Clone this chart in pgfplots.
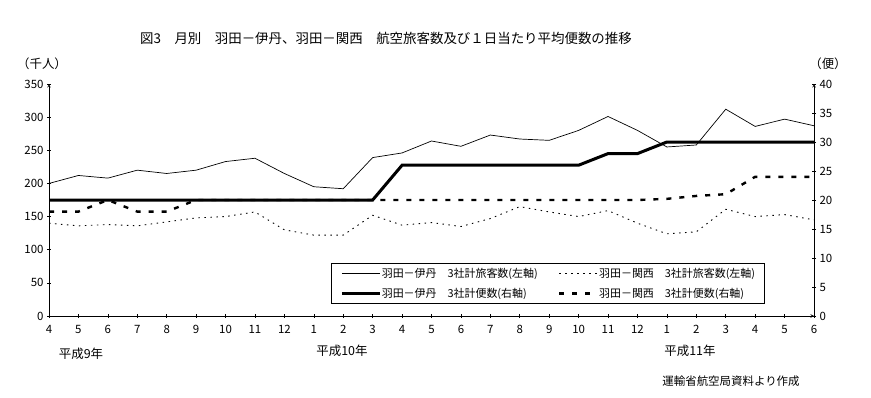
\documentclass[border=0pt]{standalone}
\usepackage{pgfplots}
\pgfplotsset{compat=1.18}
\usepackage{fontspec}
\setmainfont{Noto Sans CJK JP}
\begin{document}
\begin{tikzpicture}[x=1bp,y=1bp]
\useasboundingbox[fill=white] (0,0) rectangle (871,397);
\pgfplotsset{
  base/.style={
    at={(49bp,81bp)}, anchor=south west,
    scale only axis, width=765bp, height=232bp,
    xmin=0, xmax=26,
    tick align=inside, major tick length=4bp,
    axis line style={-, line width=0.6bp},
    every tick/.style={line width=0.6bp, black},
    tick label style={font=\fontsize{11.5}{12}\selectfont},
    /pgf/number format/assume math mode=true,
  }
}
\begin{axis}[base,
  ymin=0, ymax=350,
  axis x line=bottom, axis y line=left,
  xtick={0,...,26},
  xticklabels={4,5,6,7,8,9,10,11,12,1,2,3,4,5,6,7,8,9,10,11,12,1,2,3,4,5,6},
  xticklabel style={yshift=-4bp},
  ytick={0,50,...,350},
]
\addplot[black, line width=0.7bp] coordinates {
(0,200)(1,212)(2,208)(3,220)(4,215)(5,220)(6,233)(7,238)(8,215)
(9,195)(10,192)(11,239)(12,246)(13,264)(14,256)(15,273)(16,267)(17,265)(18,280)(19,301)(20,280)
(21,255)(22,258)(23,312)(24,286)(25,297)(26,287)};
\addplot[black, line width=0.9bp, dash pattern=on 1.5bp off 4.5bp] coordinates {
(0,140)(1,136)(2,138)(3,136)(4,142)(5,148)(6,150)(7,157)(8,130)
(9,122)(10,122)(11,152)(12,137)(13,141)(14,135)(15,147)(16,165)(17,157)(18,150)(19,159)(20,140)
(21,124)(22,127)(23,161)(24,150)(25,153)(26,145)};
\end{axis}
\begin{axis}[base,
  ymin=0, ymax=40,
  axis y line=right, axis x line=none,
  ytick={0,5,...,40},
  legend columns=2,
  legend cell align=left,
  legend style={at={(0.3686,0.2284)}, anchor=north west, draw=black, line width=0.6bp,
    font=\fontsize{11}{12}\selectfont, inner xsep=9bp, inner ysep=3bp,
    nodes={inner xsep=0.5bp},
    row sep=5bp, /tikz/every even column/.append style={column sep=20bp}},
  legend image code/.code={\draw[#1] (0bp,0bp) -- (38bp,0bp);},
]
\addlegendimage{black, line width=0.7bp}
\addlegendentry{羽田－伊丹　3社計旅客数(左軸)}
\addlegendimage{black, line width=0.9bp, dash pattern=on 1.5bp off 4.5bp}
\addlegendentry{羽田－関西　3社計旅客数(左軸)}
\addlegendimage{black, line width=3bp}
\addlegendentry{羽田－伊丹　3社計便数(右軸)}
\addlegendimage{black, line width=2.4bp, dash pattern=on 5bp off 8bp}
\addlegendentry{羽田－関西　3社計便数(右軸)}
\addplot[black, line width=2.4bp, dash pattern=on 5bp off 8bp, forget plot] coordinates {
(0,18)(1,18)(2,20)(3,18)(4,18)(5,20)(6,20)(7,20)(8,20)
(9,20)(10,20)(11,20)(12,20)(13,20)(14,20)(15,20)(16,20)(17,20)(18,20)(19,20)(20,20)
(21,20.2)(22,20.7)(23,21)(24,24)(25,24)(26,24)};
\addplot[black, line width=3bp, forget plot] coordinates {
(0,20)(1,20)(2,20)(3,20)(4,20)(5,20)(6,20)(7,20)(8,20)
(9,20)(10,20)(11,20)(12,26)(13,26)(14,26)(15,26)(16,26)(17,26)(18,26)(19,28)(20,28)
(21,30)(22,30)(23,30)(24,30)(25,30)(26,30)};
\end{axis}
\node[font=\fontsize{13.5}{15}\selectfont] at (386,359) {図3　月別　羽田－伊丹、羽田－関西　航空旅客数及び１日当たり平均便数の推移};
\node[font=\fontsize{12.5}{14}\selectfont] at (42,333) {（千人）};
\node[font=\fontsize{12.5}{14}\selectfont] at (828,333) {（便）};
\node[font=\fontsize{12.5}{14}\selectfont] at (81,43) {平成9年};
\node[font=\fontsize{12.5}{14}\selectfont] at (342,46) {平成10年};
\node[font=\fontsize{12.5}{14}\selectfont] at (690,46) {平成11年};
\node[font=\fontsize{11.5}{13}\selectfont] at (731,16) {運輸省航空局資料より作成};
\end{tikzpicture}
\end{document}
